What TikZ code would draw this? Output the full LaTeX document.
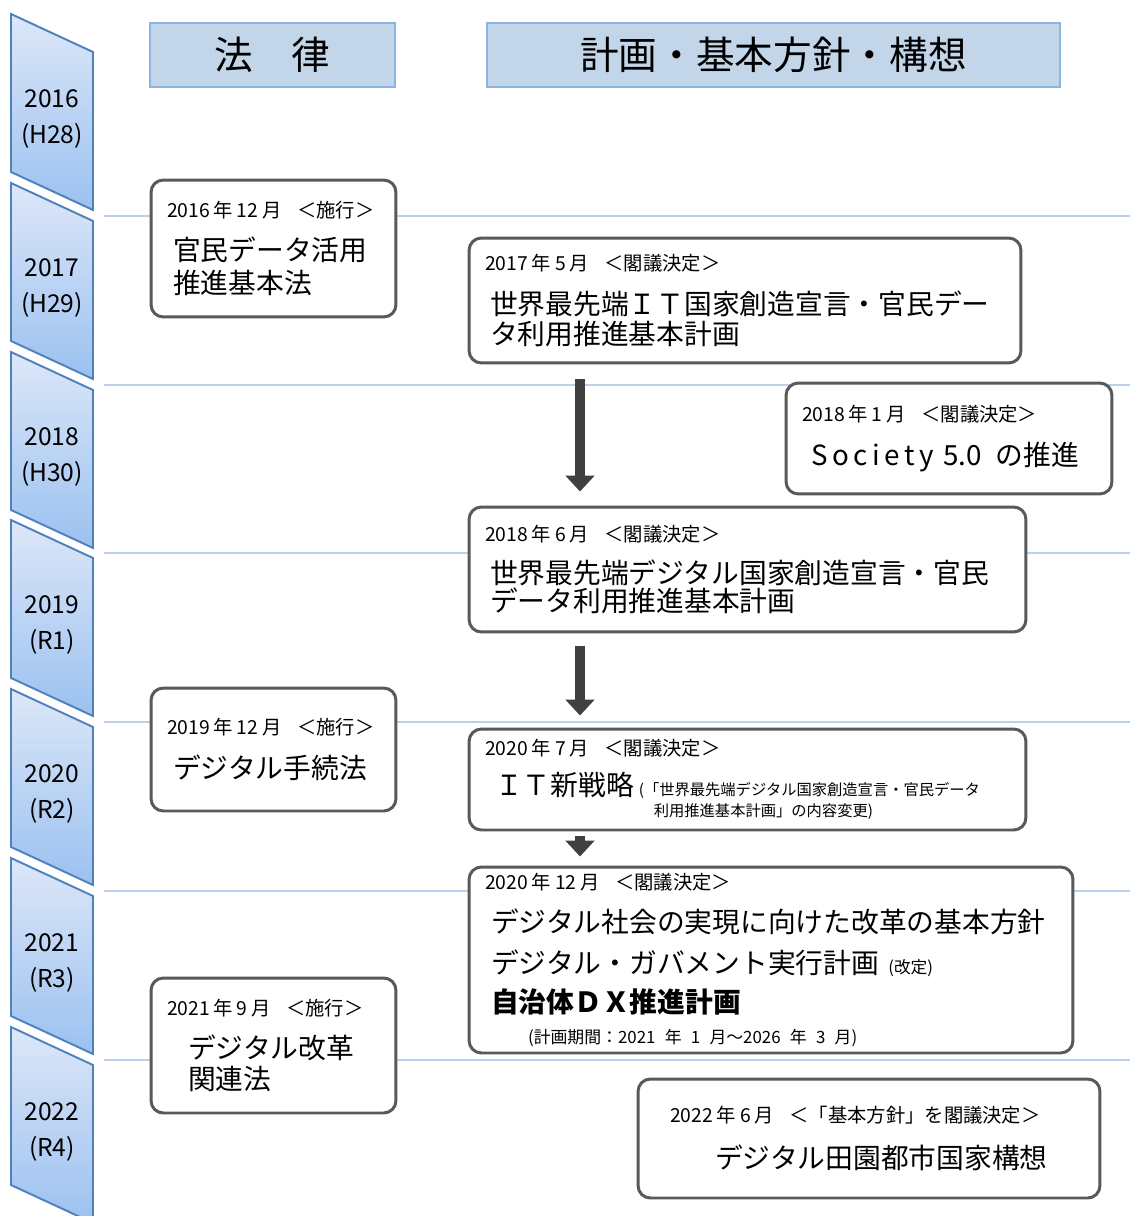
\documentclass[tikz,border=0pt]{standalone}
\usepackage{fontspec}
\setmainfont{Noto Sans CJK JP}
\usetikzlibrary{
    arrows.meta,
    positioning,
    calc
}
\definecolor{bandtop}{HTML}{DDE7F8}
\definecolor{bandbottom}{HTML}{9BC1F0}
\definecolor{bandline}{HTML}{4F81BD}
\definecolor{headfill}{HTML}{C3D5E9}
\definecolor{headline}{HTML}{8DB3E2}
\definecolor{gridblue}{HTML}{B9D1EC}
\definecolor{boxline}{HTML}{595959}
\definecolor{arrowdark}{HTML}{404040}
\newcommand\datefont{\fontsize{11pt}{13pt}\selectfont}
\newcommand\titlefont{\fontsize{15.8pt}{18pt}\selectfont}
\newcommand\notefont{\fontsize{8.7pt}{12pt}\selectfont}
\newcommand\yearfont{\fontsize{14pt}{21pt}\selectfont}
\newcommand\headfont{\fontsize{22pt}{26pt}\selectfont}
\newcommand\dategap{\hspace{0.2em}}
\newcommand\tagsep{\hspace{0.8em}}
\tikzset{
    % Year band style
    yearband/.style={
        draw=bandline,
        line width=1.1pt,
        top color=bandtop,
        bottom color=bandbottom
    },
    year label/.style={
        align=center,
        font=\yearfont,
        inner sep=0pt
    },
    % Column header style
    header/.style={
        rectangle,
        draw=headline,
        fill=headfill,
        line width=1.3pt,
        minimum height=1.27cm,
        font=\headfont
    },
    % Event box style
    event/.style={
        rectangle,
        rounded corners=7pt,
        draw=boxline,
        fill=white,
        line width=1.7pt,
        align=left,
        inner xsep=0.32cm,
        inner ysep=0pt,
        font=\titlefont
    },
    % Year separator
    gridline/.style={
        draw=gridblue,
        line width=1.5pt
    },
    % Arrow style
    flow/.style={
        -{Triangle[length=9pt, width=16pt]},
        line width=5.5pt,
        draw=arrowdark
    }
}

\begin{document}
\begin{tikzpicture}[x=0.02cm, y=-0.02cm]
    \useasboundingbox (0,0) rectangle (1130,1216);

    % Year bands
    \draw[yearband] (11,14) -- (93,52) -- (93,210) -- (11,172) -- cycle;
    \draw[yearband] (11,183) -- (93,221) -- (93,379) -- (11,341) -- cycle;
    \draw[yearband] (11,352) -- (93,390) -- (93,548) -- (11,510) -- cycle;
    \draw[yearband] (11,520) -- (93,558) -- (93,716) -- (11,678) -- cycle;
    \draw[yearband] (11,689) -- (93,727) -- (93,885) -- (11,847) -- cycle;
    \draw[yearband] (11,858) -- (93,896) -- (93,1054) -- (11,1016) -- cycle;
    \draw[yearband] (11,1027) -- (93,1065) -- (93,1223) -- (11,1185) -- cycle;

    \node[year label] (y2016) at (52,119) {2016\\(H28)};
    \node[year label] (y2017) at (52,288) {2017\\(H29)};
    \node[year label] (y2018) at (52,457) {2018\\(H30)};
    \node[year label] (y2019) at (52,625) {2019\\(R1)};
    \node[year label] (y2020) at (52,794) {2020\\(R2)};
    \node[year label] (y2021) at (52,963) {2021\\(R3)};
    \node[year label] (y2022) at (52,1132) {2022\\(R4)};

    % Year separators
    \draw[gridline] (104,216) -- (1130,216);
    \draw[gridline] (104,385) -- (1130,385);
    \draw[gridline] (104,553) -- (1130,553);
    \draw[gridline] (104,722) -- (1130,722);
    \draw[gridline] (104,891) -- (1130,891);
    \draw[gridline] (104,1060) -- (1130,1060);

    % Headers
    \node[header, minimum width=4.9cm] (hlaw) at (272.5,55) {法　律};
    \node[header, minimum width=11.46cm] (hplan) at (773.5,55) {計画・基本方針・構想};

    % Laws
    \node[event, text width=4.26cm, minimum height=2.74cm] (law1) at (273.5,248.5)
        {\mbox{\datefont 2016\dategap 年\dategap 12\dategap 月\tagsep ＜施行＞}\\[6.5pt]
         \hspace*{0.12cm}官民データ活用\\[0.7pt]
         \hspace*{0.12cm}推進基本法};
    \node[event, text width=4.26cm, minimum height=2.46cm] (law2) at (273.5,749.5)
        {\mbox{\datefont 2019\dategap 年\dategap 12\dategap 月\tagsep ＜施行＞}\\[7pt]
         \hspace*{0.12cm}デジタル手続法};
    \node[event, text width=4.26cm, minimum height=2.7cm] (law3) at (273.5,1045.5)
        {\mbox{\datefont 2021\dategap 年\dategap 9\dategap 月\tagsep ＜施行＞}\\[6.5pt]
         \hspace*{0.42cm}デジタル改革\\[0.1pt]
         \hspace*{0.42cm}関連法};

    % Plans
    \node[event, text width=10.4cm, minimum height=2.5cm, font=\fontsize{15.8pt}{17pt}\selectfont] (plan1) at (745,300.5)
        {\mbox{\datefont 2017\dategap 年\dategap 5\dategap 月\tagsep ＜閣議決定＞}\\[7.7pt]
         \hspace*{0.1cm}\mbox{世界最先端ＩＴ国家創造宣言・官民デー}\\
         \hspace*{0.1cm}タ利用推進基本計画};
    \node[event, text width=5.88cm, minimum height=2.22cm] (society) at (949,438.5)
        {\mbox{\datefont 2018\dategap 年\dategap 1\dategap 月\tagsep ＜閣議決定＞}\\[7.5pt]
         \hspace*{0.18cm}S\,o\,c\,i\,e\,t\,y 5.0\hspace{0.5em}の推進};
    \node[event, text width=10.5cm, minimum height=2.5cm] (plan2) at (747.5,569.5)
        {\mbox{\datefont 2018\dategap 年\dategap 6\dategap 月\tagsep ＜閣議決定＞}\\[5.9pt]
         \hspace*{0.1cm}世界最先端デジタル国家創造宣言・官民\\[-1.6pt]
         \hspace*{0.1cm}データ利用推進基本計画};
    \node[event, text width=10.5cm, minimum height=2.02cm] (plan3) at (747.5,779.5)
        {\mbox{\datefont 2020\dategap 年\dategap 7\dategap 月\tagsep ＜閣議決定＞}\\[4.7pt]
         \hspace*{0.2cm}ＩＴ新戦略\hspace{0.1cm}\parbox[t]{7.3cm}{\notefont (「世界最先端デジタル国家創造宣言・官民データ\\
         \hspace*{0.3cm}利用推進基本計画」の内容変更)}};
    \node[event, text width=11.44cm, minimum height=3.72cm] (plan4) at (771,960)
        {\mbox{\datefont 2020\dategap 年\dategap 12\dategap 月\tagsep ＜閣議決定＞}\\[6.5pt]
         \hspace*{0.12cm}デジタル社会の実現に向けた改革の基本方針\\[5.2pt]
         \hspace*{0.12cm}デジタル・ガバメント実行計画 {\fontsize{9.5pt}{12pt}\selectfont (改定)}\\[4.7pt]
         \hspace*{0.12cm}{\bfseries 自治体ＤＸ推進計画}\\[-0.4pt]
         \hspace*{0.86cm}\mbox{\fontsize{9.6pt}{12pt}\selectfont (計画期間：2021 年 1 月～2026 年 3 月)}};
    \node[event, text width=8.6cm, minimum height=2.38cm] (plan5) at (869,1138.5)
        {\hspace*{0.32cm}\mbox{\datefont 2022\dategap 年\dategap 6\dategap 月\tagsep ＜「基本方針」を閣議決定＞}\\[8.6pt]
         \hspace*{1.22cm}デジタル田園都市国家構想};

    % Flow between plans
    \coordinate (arrowcol) at (580,0);
    \draw[flow, shorten <=0.3cm, shorten >=0.28cm] (plan1.south -| arrowcol) -- (plan2.north -| arrowcol);
    \draw[flow, shorten <=0.26cm, shorten >=0.24cm] (plan2.south -| arrowcol) -- (plan3.north -| arrowcol);
    \draw[flow, shorten <=0.1cm, shorten >=0.18cm] (plan3.south -| arrowcol) -- (plan4.north -| arrowcol);

\end{tikzpicture}
\end{document}
